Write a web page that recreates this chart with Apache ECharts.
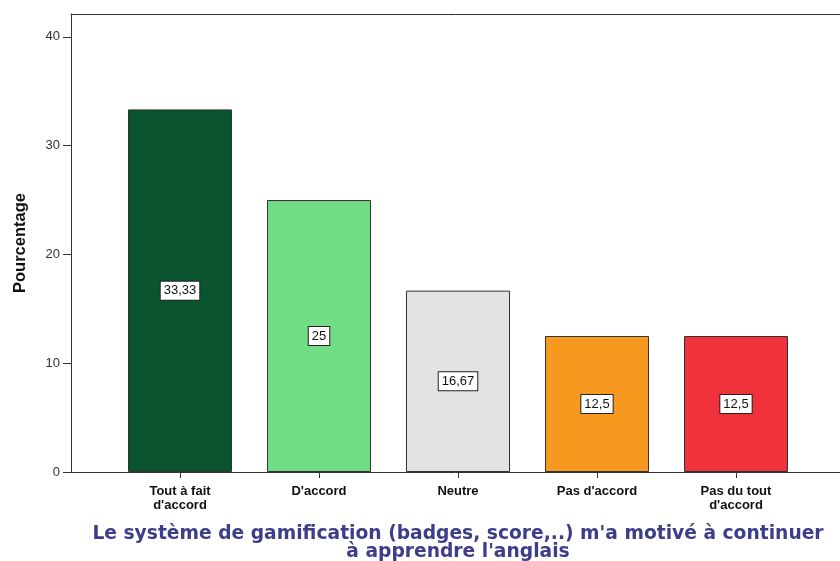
<!DOCTYPE html>
<html>
<head>
<meta charset="utf-8">
<script src="https://cdn.jsdelivr.net/npm/echarts@6/dist/echarts.min.js"></script>
<style>
  html, body { margin: 0; padding: 0; background: #fff; }
  #barChart { width: 840px; height: 561px; }
</style>
</head>
<body>
<div id="barChart"></div>
<script>
// données
const categories = ['Tout à fait\nd\'accord', 'D\'accord', 'Neutre', 'Pas d\'accord', 'Pas du tout\nd\'accord'];
const percentages = [33.33, 25, 16.67, 12.5, 12.5];
const barColors = ['#0b5430', '#70dc84', '#e3e3e3', '#f7991e', '#f0333a'];
const yTicks = [0, 10, 20, 30, 40];
const yMax = 42.1;

const echart = echarts.init(document.getElementById('barChart'));

const option = {
  animation: false,
  grid: [
    // cadre (axe Y + ligne du haut)
    { left: 71, right: 0, top: 14, bottom: 89, containLabel: false, outerBoundsMode: 'none' },
    // barres
    { left: 110.5, width: 695, top: 14, bottom: 89, containLabel: false, outerBoundsMode: 'none' }
  ],
  xAxis: [
    {
      gridIndex: 0,
      type: 'value',
      position: 'bottom',
      min: 0,
      max: 1,
      axisLine: { show: true, lineStyle: { color: '#333', width: 1 } },
      axisTick: { show: false },
      axisLabel: { show: false },
      splitLine: { show: false }
    },
    {
      gridIndex: 0,
      type: 'value',
      position: 'top',
      min: 0,
      max: 1,
      axisLine: { show: true, lineStyle: { color: '#333', width: 1 } },
      axisTick: { show: false },
      axisLabel: { show: false },
      splitLine: { show: false }
    },
    {
      gridIndex: 1,
      type: 'category',
      data: categories,
      axisLine: { show: false },
      axisTick: { show: true, alignWithLabel: true, length: 6, lineStyle: { color: '#333' } },
      axisLabel: {
        margin: 12,
        color: '#111',
        fontFamily: 'Liberation Sans Narrow, Arial Narrow, sans-serif',
        fontWeight: 'bold',
        fontSize: 13,
        lineHeight: 14
      },
      name: 'Le système de gamification (badges, score,..) m\'a motivé à continuer\nà apprendre l\'anglais',
      nameLocation: 'middle',
      nameGap: 53,
      nameTextStyle: {
        color: '#3d3d8a',
        fontFamily: 'DejaVu Sans',
        fontWeight: 'bold',
        fontSize: 18.7,
        lineHeight: 18
      }
    }
  ],
  yAxis: [
    {
      gridIndex: 0,
      type: 'value',
      min: 0,
      max: yMax,
      axisLine: { show: true, lineStyle: { color: '#333', width: 1 } },
      axisTick: { show: true, length: 8, lineStyle: { color: '#333' }, customValues: yTicks },
      axisLabel: {
        margin: 11,
        color: '#333',
        fontFamily: 'Arial, Liberation Sans, sans-serif',
        fontSize: 13,
        customValues: yTicks
      },
      splitLine: { show: false },
      name: 'Pourcentage',
      nameLocation: 'middle',
      nameGap: 42,
      nameTextStyle: {
        color: '#111',
        fontFamily: 'Arial, Liberation Sans, sans-serif',
        fontWeight: 'bold',
        fontSize: 16.5
      }
    },
    {
      gridIndex: 1,
      type: 'value',
      min: 0,
      max: yMax,
      show: false
    }
  ],
  series: [
    {
      type: 'bar',
      xAxisIndex: 2,
      yAxisIndex: 1,
      barWidth: 104,
      data: percentages.map((v, i) => ({
        value: v,
        itemStyle: { color: barColors[i], borderColor: '#333', borderWidth: 1 }
      })),
      label: {
        show: true,
        position: 'inside',
        formatter: p => String(p.value).replace('.', ','),
        color: '#111',
        fontFamily: 'Arial, Liberation Sans, sans-serif',
        fontSize: 13,
        backgroundColor: '#fff',
        borderColor: '#222',
        borderWidth: 1,
        padding: [3, 3, 2, 3]
      }
    }
  ]
};

echart.setOption(option);
</script>
</body>
</html>
